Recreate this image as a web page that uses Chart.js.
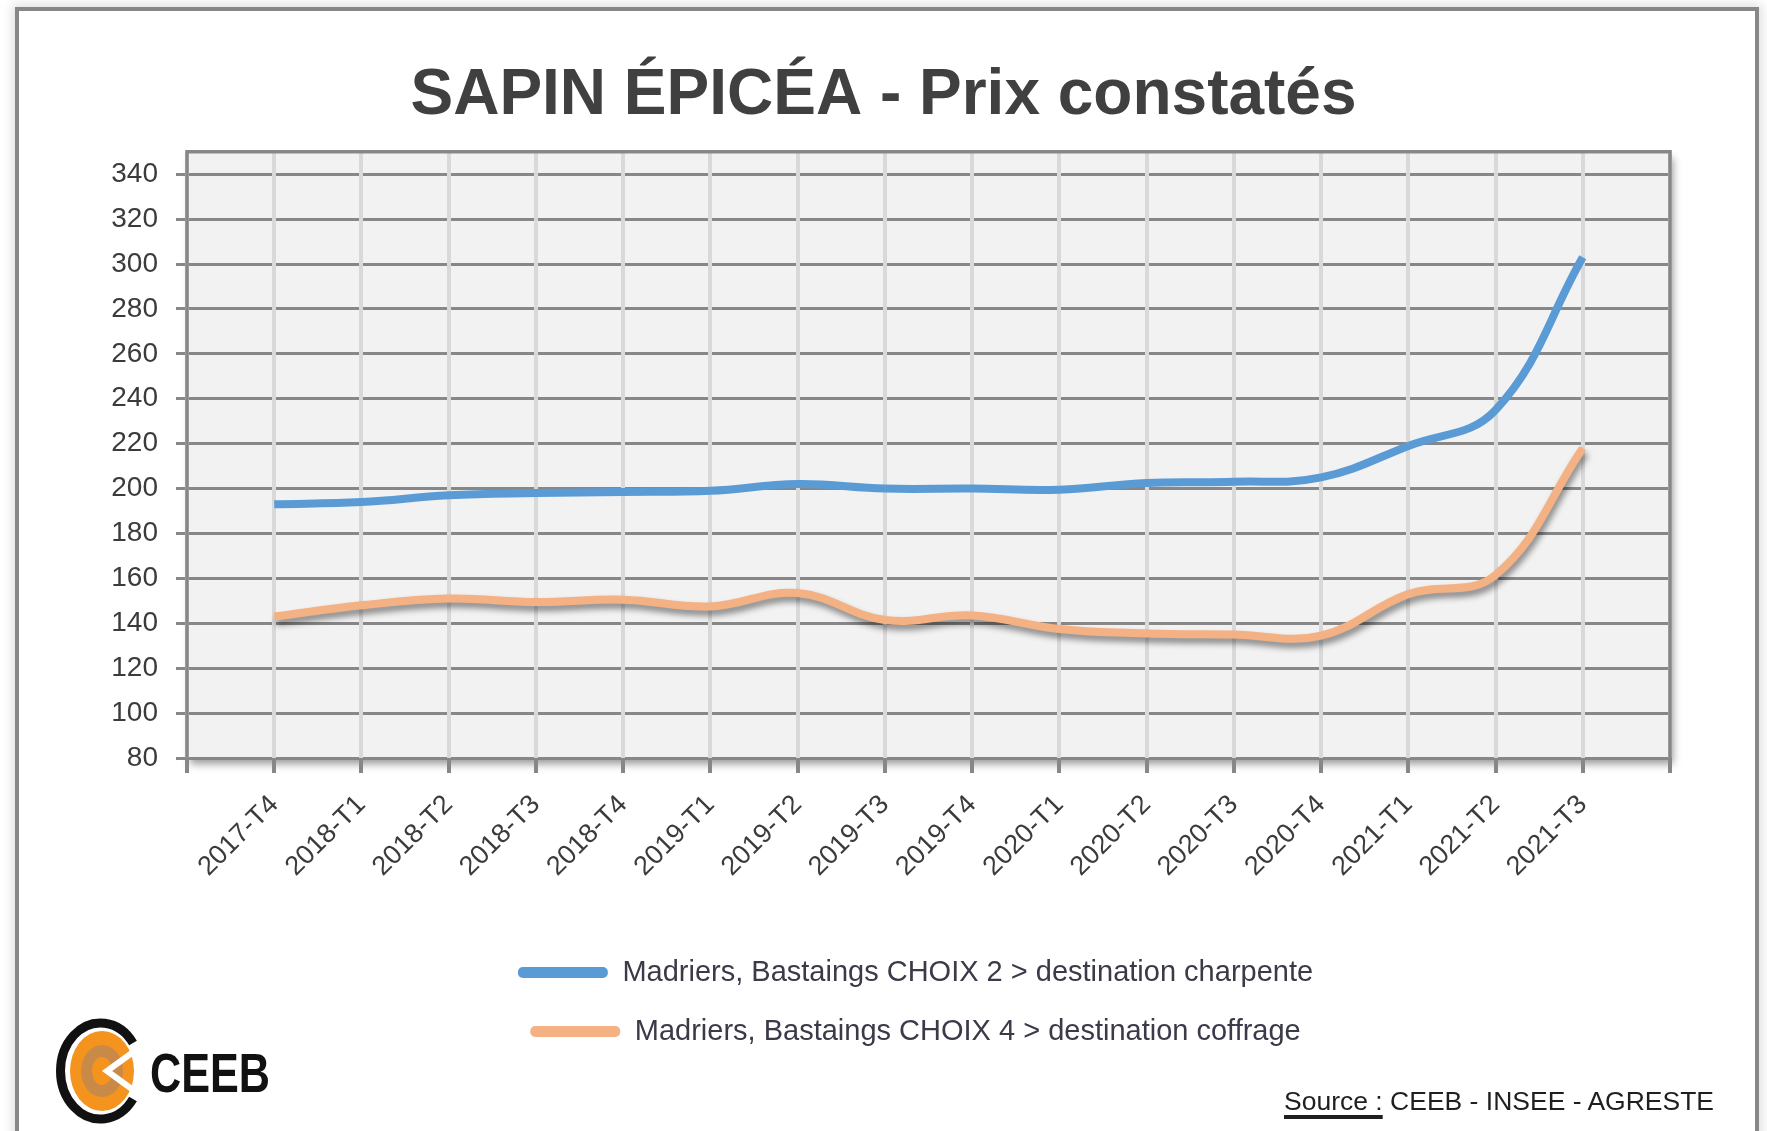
<!DOCTYPE html>
<html lang="fr">
<head>
<meta charset="utf-8">
<title>SAPIN ÉPICÉA - Prix constatés</title>
<script src="https://cdn.jsdelivr.net/npm/chart.js@4/dist/chart.umd.min.js"></script>
<style>
    html, body { margin: 0; padding: 0; background: #fff; }
    body { width: 1767px; height: 1131px; position: relative; overflow: hidden; font-family: 'Liberation Sans', Arial, sans-serif; }
    .frame {
        position: absolute; left: 15px; top: 7px; width: 1736px; height: 1200px;
        border: 4px solid #878787; border-bottom: none;
        box-shadow: 0 0 10px 3px rgba(0, 0, 0, 0.12);
    }
    #chart { position: absolute; left: 0; top: 0; z-index: 2; }
    .logo { position: absolute; left: 40px; top: 1000px; z-index: 3; }
    .source {
        position: absolute; left: 1284px; top: 1087px; z-index: 3;
        font-size: 26.5px; line-height: 28px; color: #1f1f1f; white-space: nowrap;
    }
    .source u { text-decoration-thickness: 4px; text-underline-offset: 5px; }
</style>
</head>
<body>
<div class="frame"></div>
<canvas id="chart" width="1767" height="1131"></canvas>

<svg class="logo" width="260" height="131" viewBox="0 0 260 131">
    <path d="M 93 43 A 40 48 0 1 0 93 99" fill="none" stroke="#111" stroke-width="9"/>
    <ellipse cx="62" cy="71" rx="32" ry="40" fill="#f4931e"/>
    <ellipse cx="62" cy="71" rx="21" ry="26" fill="#c98a48"/>
    <ellipse cx="62" cy="71" rx="10" ry="14" fill="#f4931e"/>
    <polyline points="96,50 67,71 96,92" fill="none" stroke="#fff" stroke-width="6"/>
    <text x="110" y="92" font-family="Liberation Sans, Arial, sans-serif" font-weight="bold" font-size="56" textLength="120" lengthAdjust="spacingAndGlyphs" fill="#111">CEEB</text>
</svg>

<div class="source"><u>Source :</u> CEEB - INSEE - AGRESTE</div>

<script>
// Données
const quarters = ['2017-T4', '2018-T1', '2018-T2', '2018-T3', '2018-T4', '2019-T1', '2019-T2', '2019-T3',
                  '2019-T4', '2020-T1', '2020-T2', '2020-T3', '2020-T4', '2021-T1', '2021-T2', '2021-T3'];
const charpente = [193, 194, 197, 198, 198.5, 199, 202, 200, 200, 199.5, 202.5, 203, 205, 219, 235, 303];
const coffrage = [143, 148, 151, 149.5, 150.5, 147.5, 153.5, 141.5, 143.5, 137.5, 135.5, 135, 134.5, 153, 161.5, 218];
const yTicks = [80, 100, 120, 140, 160, 180, 200, 220, 240, 260, 280, 300, 320, 340];

const seriesNames = [
    'Madriers, Bastaings CHOIX 2 > destination charpente',
    'Madriers, Bastaings CHOIX 4 > destination coffrage'
];

// Excel laisse une case vide de chaque côté de l'axe des catégories
const xLabels = ['', ...quarters, ''];
const pad = values => [null, ...values, null];

Chart.defaults.font.family = "'Liberation Sans', Arial, sans-serif";
Chart.defaults.color = '#404040';

const GRID_DARK = '#878787';

// Fond gris de la zone de traçage avec son ombre, puis le cadre
const plotFrame = {
    id: 'plotFrame',
    afterLayout(chart) {
        // la légende est un peu à gauche du centre de la zone de traçage
        if (chart.legend) {
            chart.legend.left -= 13;
            chart.legend.right -= 13;
        }
    },
    beforeDraw(chart) {
        const { ctx, chartArea: a } = chart;
        ctx.save();
        ctx.shadowColor = 'rgba(0, 0, 0, 0.4)';
        ctx.shadowBlur = 8;
        ctx.shadowOffsetX = 3;
        ctx.shadowOffsetY = 6;
        ctx.fillStyle = '#f2f2f2';
        ctx.fillRect(a.left, a.top, a.width, a.height);
        ctx.restore();
    },
    afterDraw(chart) {
        const { ctx, chartArea: a } = chart;
        ctx.save();
        ctx.strokeStyle = GRID_DARK;
        ctx.lineWidth = 3.5;
        ctx.beginPath();
        ctx.moveTo(a.left, a.bottom + 15);
        ctx.lineTo(a.left, a.top);
        ctx.lineTo(a.right, a.top);
        ctx.lineTo(a.right, a.bottom + 15);
        ctx.stroke();
        ctx.restore();
    }
};

// Ombre portée sous la courbe orange
const lineShadow = {
    id: 'lineShadow',
    beforeDatasetDraw(chart, args) {
        if (args.index !== 1) return;
        const ctx = chart.ctx;
        ctx.save();
        ctx.shadowColor = 'rgba(0, 0, 0, 0.45)';
        ctx.shadowBlur = 6;
        ctx.shadowOffsetX = 2;
        ctx.shadowOffsetY = 5;
    },
    afterDatasetDraw(chart, args) {
        if (args.index === 1) chart.ctx.restore();
    }
};

new Chart(document.getElementById('chart'), {
    type: 'line',
    data: {
        labels: xLabels,
        datasets: [{
            label: seriesNames[0],
            data: pad(charpente),
            borderColor: '#5b9bd5',
            backgroundColor: '#5b9bd5',
            borderWidth: 8,
            tension: 0.4,
            pointRadius: 0,
            pointHoverRadius: 0
        }, {
            label: seriesNames[1],
            data: pad(coffrage),
            borderColor: '#f4b183',
            backgroundColor: '#f4b183',
            borderWidth: 8,
            tension: 0.4,
            pointRadius: 0,
            pointHoverRadius: 0
        }]
    },
    options: {
        responsive: false,
        devicePixelRatio: 1,
        animation: false,
        layout: { padding: { top: 0, left: 0, right: 0, bottom: 75 } },
        plugins: {
            tooltip: { enabled: false },
            title: {
                display: true,
                text: 'SAPIN ÉPICÉA - Prix constatés',
                color: '#404040',
                font: { size: 64, weight: 'bold' },
                padding: { top: 58, bottom: 17 }
            },
            legend: {
                position: 'bottom',
                fullSize: false,
                labels: {
                    color: '#3a3a48',
                    font: { size: 29 },
                    boxWidth: 90,
                    boxHeight: 11,
                    padding: 30,
                    useBorderRadius: true,
                    borderRadius: 5,
                    generateLabels(chart) {
                        const items = Chart.defaults.plugins.legend.labels.generateLabels(chart);
                        items.forEach(item => {
                            item.lineWidth = 0;
                            item.fillStyle = item.strokeStyle;
                        });
                        return items;
                    }
                }
            }
        },
        scales: {
            y: {
                min: 80,
                max: 350,
                afterBuildTicks: scale => {
                    scale.ticks = yTicks.map(v => ({ value: v }));
                },
                afterFit: scale => { scale.width = 187; },
                grid: {
                    color: GRID_DARK,
                    lineWidth: 3,
                    tickLength: 11,
                    tickColor: GRID_DARK
                },
                border: { display: false },
                ticks: {
                    font: { size: 28 },
                    color: '#3b3b3b',
                    padding: 18
                }
            },
            // axe vide à droite, seulement pour réserver la marge
            yRight: {
                position: 'right',
                afterFit: scale => { scale.width = 97; },
                grid: { display: false },
                border: { display: false },
                ticks: { display: false }
            },
            x: {
                offset: false,
                afterFit: scale => { scale.height = 170; },
                grid: {
                    color: '#d9d9d9',
                    lineWidth: 4,
                    tickLength: 15,
                    tickColor: GRID_DARK
                },
                border: { display: false },
                ticks: {
                    autoSkip: false,
                    minRotation: 45,
                    maxRotation: 45,
                    font: { size: 27 },
                    color: '#3b3b3b',
                    padding: 16
                }
            }
        }
    },
    plugins: [plotFrame, lineShadow]
});
</script>
</body>
</html>
